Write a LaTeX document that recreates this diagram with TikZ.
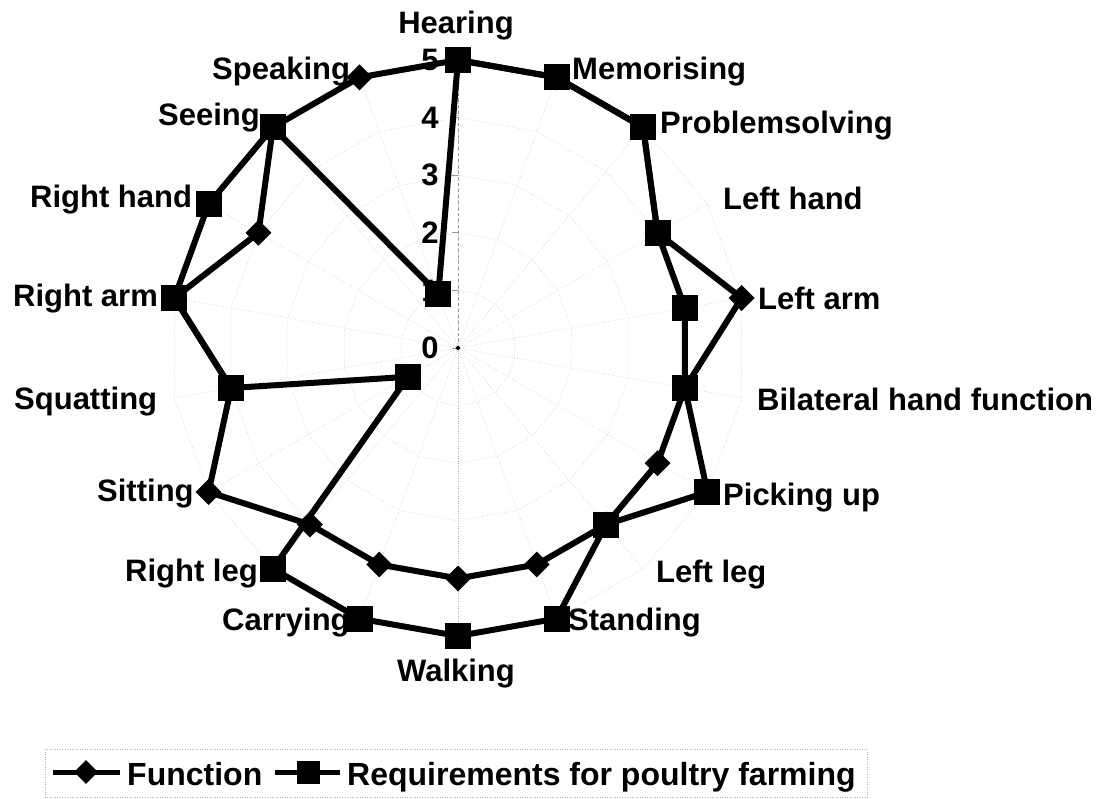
\documentclass[tikz,border=0pt]{standalone}
\usepackage{fontspec}
\setmainfont{Liberation Sans}
\usetikzlibrary{shapes.geometric}

\begin{document}
\begin{tikzpicture}[x=1pt,y=-1pt,
  grid/.style={gray!60, dotted, line width=0.5pt},
  series/.style={black, line width=6pt, line join=round},
  sqmark/.style={rectangle, fill=black, minimum size=26pt, inner sep=0pt},
  dmmark/.style={diamond, fill=black, minimum size=26pt, inner sep=0pt},
  catlabel/.style={font=\fontsize{31}{31}\selectfont\bfseries, inner sep=0pt, anchor=base west},
  ticklabel/.style={font=\fontsize{31}{31}\selectfont\bfseries, inner sep=0pt},
  legtext/.style={font=\fontsize{32}{32}\selectfont\bfseries, inner sep=0pt, anchor=base west},
]
\useasboundingbox (0,0) rectangle (1115,798);

\def\cx{458}
\def\cy{348}
\def\u{57.6}
\coordinate (c) at (\cx,\cy);

% radial grid: level polygons and spokes
\foreach \k in {1,...,5}{
  \draw[grid] ({\cx},{\cy-\k*\u})
    \foreach \i in {1,...,17}{ -- ({\cx+\k*\u*sin(20*\i)},{\cy-\k*\u*cos(20*\i)}) } -- cycle;
}
\foreach \i in {0,...,17}{
  \coordinate (s\i) at ({\cx+5*\u*sin(20*\i)},{\cy-5*\u*cos(20*\i)});
  \draw[grid] (c) -- (s\i);
}
% value axis with ticks
\draw[gray!80, dashed, line width=0.9pt] (c) -- (s0);
\foreach \k in {0,...,5}{
  \coordinate (tk\k) at (\cx,{\cy-\k*\u});
  \draw[gray!80, line width=0.8pt] (tk\k) -- ++(-6,0);
  \node[ticklabel] (t\k) at (430,{\cy-\k*\u}) {\k};
}
\fill (c) circle (2);

% category labels
\node[catlabel, anchor=base] (lHearing) at (456,33) {Hearing};
\node[catlabel] (lMem) at (572,79) {Memorising};
\node[catlabel] (lProb) at (660,133) {Problemsolving};
\node[catlabel] (lLhand) at (723,209) {Left hand};
\node[catlabel] (lLarm) at (758,309) {Left arm};
\node[catlabel] (lBil) at (757,410) {Bilateral hand function};
\node[catlabel] (lPick) at (723,505) {Picking up};
\node[catlabel] (lLleg) at (656,582) {Left leg};
\node[catlabel] (lStand) at (568,630) {Standing};
\node[catlabel, anchor=base] (lWalk) at (456,681) {Walking};
\node[catlabel] (lCarry) at (222,630) {Carrying};
\node[catlabel] (lRleg) at (125,581) {Right leg};
\node[catlabel] (lSit) at (97,501) {Sitting};
\node[catlabel] (lSquat) at (14,409) {Squatting};
\node[catlabel] (lRarm) at (13,306) {Right arm};
\node[catlabel] (lRhand) at (30,207) {Right hand};
\node[catlabel] (lSee) at (158,125) {Seeing};
\node[catlabel] (lSpeak) at (212,79) {Speaking};

% data points
\foreach \v [count=\i from 0] in {5,5,5,4,5,4,4,4,4,4,4,4,5,4,5,4,5,5}{
  \coordinate (f\i) at ({\cx+\v*\u*sin(20*\i)},{\cy-\v*\u*cos(20*\i)});
}
\foreach \v [count=\i from 0] in {5,5,5,4,4,4,5,4,5,5,5,5,1,4,5,5,5,1}{
  \coordinate (q\i) at ({\cx+\v*\u*sin(20*\i)},{\cy-\v*\u*cos(20*\i)});
}

% series: Function
\draw[series] (f0) \foreach \i in {1,...,17}{ -- (f\i) } -- cycle;
\foreach \i in {0,...,17}{ \node[dmmark] (fm\i) at (f\i) {}; }
% series: Requirements for poultry farming
\draw[series] (q0) \foreach \i in {1,...,17}{ -- (q\i) } -- cycle;
\foreach \i in {0,...,17}{ \node[sqmark] (qm\i) at (q\i) {}; }

% legend
\draw[grid] (45,749) rectangle (867,797);
\coordinate (la1) at (53,772);
\coordinate (la2) at (120,772);
\draw[series, line width=5pt] (la1) -- (la2);
\node[dmmark, minimum size=24pt] (lgf) at (86,772) {};
\node[legtext] (lgft) at (127,785) {Function};
\coordinate (lb1) at (275,772);
\coordinate (lb2) at (340,772);
\draw[series, line width=5pt] (lb1) -- (lb2);
\node[sqmark, minimum size=23pt] (lgq) at (308,772) {};
\node[legtext] (lgqt) at (347,785) {Requirements for poultry farming};
\end{tikzpicture}
\end{document}
